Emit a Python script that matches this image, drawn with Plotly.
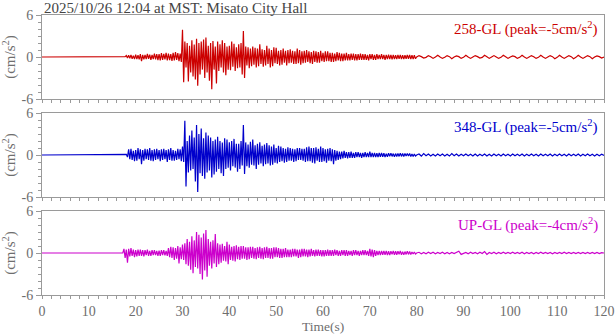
import numpy as np
import plotly.graph_objects as go
from plotly.subplots import make_subplots

# ---- data (cm/s^2) ----
# strong-motion segment: samples every 0.25 s starting at 17.5 s
SEG_A_START, SEG_A_DT = 17.5, 0.25
# coda segment: samples every 0.5 s starting at 80.5 s
SEG_B_START, SEG_B_DT = 80.5, 0.5

red_a = [0, 0.05,
 .2,-.15,.25,-.2, .3,-.25,.2,-.3, .35,-.3,.25,-.35, .4,-.6,.3,-.35, .3,-.3,.45,-.25, .35,-.4,.3,-.3,
 .5,-.35,.4,-.45, .4,-.5,.55,-.4, .45,-.35,.6,-.5, .5,-.45,.4,-.55, .6,-.5,.7,-.4, .55,-.6,.5,-.7,
 3.9,-3.6,2.2,-1.5, 2.0,-3.5,1.6,-2.2, 2.4,-2.8,1.8,-3.2, 2.6,-4.1,2.0,-2.5, 2.2,-1.8,2.5,-3.0,
 2.8,-2.2,1.6,-3.4, 2.0,-4.6,2.3,-1.8, 1.5,-3.8,2.2,-2.0, 1.8,-1.5,2.4,-2.2, 2.0,-2.6,1.5,-1.8,
 1.6,-1.9,2.2,-1.4, 1.9,-2.0,1.4,-1.6, 1.8,-1.5,2.0,-2.5, 3.7,-3.0,1.5,-1.2, 1.4,-1.6,1.2,-1.3,
 1.5,-1.1,1.3,-1.5, 1.2,-1.3,1.8,-1.0, 1.1,-1.4,1.0,-1.2, 1.6,-1.0,1.2,-1.5, 1.0,-1.3,1.4,-0.9,
 1.3,-1.0,0.9,-1.2, 1.0,-1.1,1.2,-0.8, 0.9,-1.2,1.0,-0.9, 1.1,-0.8,0.9,-1.0, 0.8,-1.0,1.2,-0.9,
 1.0,-1.1,0.8,-0.9, 0.9,-0.8,1.0,-0.7, 0.8,-0.9,0.7,-1.0, 0.9,-0.7,0.8,-0.8, 0.7,-0.8,0.9,-0.6,
 0.6,-0.7,0.8,-0.6, 0.8,-0.6,0.6,-0.7, 0.6,-0.7,0.5,-0.6, 0.7,-0.5,0.6,-0.6, 0.5,-0.6,0.5,-0.5,
 0.6,-0.5,0.4,-0.5, 0.5,-0.4,0.5,-0.5, 0.4,-0.5,0.4,-0.4, 0.5,-0.4,0.4,-0.4, 0.4,-0.4,0.3,-0.5,
 0.4,-0.3,0.4,-0.4, 0.3,-0.4,0.4,-0.3, 0.3,-0.3,0.4,-0.3, 0.3,-0.4,0.3,-0.3, 0.35,-0.3,0.3,-0.35,
 0.3,-0.3,0.25,-0.3, 0.3,-0.25,0.3,-0.3, 0.25,-0.3,0.25,-0.25, 0.3,-0.25,0.3,-0.3, 0.25,-0.3,0.25,-0.25,
 0.0]
red_b = [
 0.2,0.05,-0.15,-0.05, 0.2,0.05,-0.2,0, 0.25,0,-0.2,-0.05, 0.2,0.05,-0.25,0, 0.15,0.05,-0.2,-0.05,
 0.25,0,-0.2,0, 0.2,0.05,-0.15,-0.05, 0.25,0.05,-0.2,0, 0.2,0,-0.2,-0.05, 0.25,0.05,-0.2,0,
 0.15,0.05,-0.2,-0.05, 0.25,0,-0.2,0, 0.2,0.05,-0.2,-0.05, 0.25,0,-0.2,0, 0.2,0.05,-0.25,-0.05,
 0.25,0,-0.2,0, 0.2,0.05,-0.25,-0.05, 0.25,0,-0.2,0, 0.2,0.05,-0.25,0, 0.15,0.05,-0.15,0]

blue_a = [0, 0,
 .1,-.3,.8,-.6, .9,-.7,.6,-.9, .7,-.8,1.0,-.6, .8,-1.3,.7,-.8, .9,-.6,.8,-.7, 1.0,-.8,.7,-.9,
 .8,-.7,.9,-.6, .7,-.9,.8,-.7, .9,-.6,.7,-1.0, .8,-.7,1.0,-.8, .7,-.8,.6,-.7, .9,-.6,.8,-.9,
 1.2,-1.0,4.9,-4.5, 2.0,-2.5,2.8,-2.2, 3.5,-2.0,2.5,-3.8, 4.3,-5.3,3.0,-2.6, 3.8,-3.0,2.4,-3.4,
 3.2,-2.5,2.8,-2.2, 2.5,-3.2,2.0,-2.8, 2.2,-2.4,2.6,-2.0, 2.0,-2.6,1.8,-3.0, 2.4,-2.0,2.2,-1.8,
 1.8,-2.2,2.0,-1.6, 2.3,-1.8,1.6,-2.4, 1.6,-2.0,2.0,-1.5, 4.3,-2.7,1.8,-1.6, 1.5,-1.8,1.9,-1.4,
 2.2,-1.5,1.4,-2.0, 1.6,-1.4,1.8,-1.2, 1.3,-1.6,1.5,-1.3, 1.7,-1.2,1.4,-1.5, 1.2,-1.4,1.5,-1.1,
 1.0,-1.2,1.3,-1.0, 1.2,-0.9,1.0,-1.1, 0.9,-1.0,1.1,-0.8, 1.0,-0.8,0.9,-1.0, 0.8,-0.9,1.0,-0.7,
 1.0,-0.7,0.9,-0.8, 0.9,-1.0,1.1,-0.9, 1.2,-0.9,1.0,-1.1, 1.0,-1.2,1.1,-0.8, 0.9,-1.0,1.2,-1.0,
 1.0,-0.9,0.8,-1.1, 0.9,-0.8,1.0,-0.9, 0.8,-1.3,0.7,-0.8, 0.6,-0.7,0.5,-0.6, 0.5,-0.5,0.6,-0.4,
 0.4,-0.5,0.4,-0.4, 0.5,-0.4,0.3,-0.4, 0.4,-0.3,0.4,-0.3, 0.3,-0.4,0.3,-0.3, 0.4,-0.3,0.3,-0.3,
 0.5,-0.3,0.3,-0.3, 0.3,-0.3,0.25,-0.3, 0.3,-0.25,0.3,-0.25, 0.25,-0.3,0.2,-0.25, 0.25,-0.2,0.25,-0.2,
 0.2,-0.25,0.2,-0.2, 0.2,-0.2,0.25,-0.2, 0.2,-0.2,0.2,-0.15, 0.2,-0.15,0.2,-0.2, 0.15,-0.2,0.15,-0.15,
 0.0]
blue_b = [
 0.15,-0.15,0.2,-0.1,0.15,-0.15,0.1,-0.15,0.15,-0.1, 0.15,-0.15,0.1,-0.15,0.2,-0.1,0.15,-0.15,0.1,-0.1,
 0.15,-0.1,0.1,-0.15,0.15,-0.15,0.1,-0.1,0.15,-0.15, 0.1,-0.15,0.15,-0.1,0.1,-0.15,0.15,-0.1,0.1,-0.15,
 0.15,-0.1,0.1,-0.1,0.15,-0.15,0.1,-0.1,0.15,-0.1, 0.1,-0.15,0.15,-0.1,0.1,-0.1,0.15,-0.15,0.1,-0.1,
 0.15,-0.1,0.1,-0.15,0.15,-0.1,0.1,-0.1,0.15,-0.15, 0.1,-0.1,0.15,-0.1,0.1,-0.15,0.1,-0.1,0.1,-0.05]

mag_a = [0.6, -0.7,
 .5,-1.4,.6,-.5, .7,-.4,.5,-.6, .4,-.5,.5,-.4, .5,-.4,.4,-.5, .4,-.3,.5,-.4, .3,-.4,.4,-.3,
 .4,-.3,.3,-.4, .35,-.4,.4,-.3, .4,-.35,.3,-.4, .7,-.6,.9,-.7, .8,-1.0,.7,-.8, 1.0,-1.5,.8,-.9,
 1.2,-1.0,1.4,-1.6, 2.0,-1.8,1.6,-2.4, 2.4,-2.9,1.8,-2.0, 3.0,-2.2,2.6,-3.0, 2.2,-3.8,2.8,-2.5,
 3.3,-3.4,2.0,-1.8, 1.6,-2.2,1.8,-1.5, 2.7,-2.0,1.4,-1.6, 1.2,-1.4,1.3,-1.1, 1.0,-1.2,1.6,-1.6,
 1.2,-1.0,0.9,-1.1, 1.0,-1.2,1.1,-0.9, 0.9,-1.0,1.0,-0.8, 1.0,-0.8,0.8,-1.0, 0.8,-0.9,0.9,-0.7,
 0.9,-0.8,0.7,-0.9, 0.8,-0.7,0.9,-0.8, 0.7,-0.9,0.8,-0.7, 0.9,-0.7,0.7,-0.8, 0.7,-0.8,0.8,-0.6,
 0.8,-0.6,0.7,-0.7, 0.6,-0.7,0.6,-0.6, 0.7,-0.6,0.5,-0.6, 0.5,-0.6,0.6,-0.5, 0.6,-0.5,0.5,-0.7,
 0.5,-0.6,0.6,-0.5, 0.6,-0.5,0.5,-0.6, 0.5,-0.5,0.6,-0.4, 0.4,-0.5,0.5,-0.4, 0.5,-0.4,0.4,-0.5,
 0.4,-0.5,0.4,-0.4, 0.5,-0.4,0.4,-0.4, 0.4,-0.4,0.5,-0.3, 0.4,-0.4,0.3,-0.4, 0.4,-0.3,0.4,-0.4,
 0.4,-0.4,0.3,-0.3, 0.3,-0.4,0.4,-0.3, 0.4,-0.3,0.3,-0.4, 0.3,-0.3,0.4,-0.3, 0.4,-0.3,0.3,-0.4,
 0.6,-0.5,0.5,-0.6, 0.4,-0.4,0.3,-0.3, 0.3,-0.3,0.3,-0.25, 0.3,-0.25,0.3,-0.3, 0.25,-0.3,0.25,-0.2,
 0.3,-0.25,0.25,-0.25, 0.25,-0.2,0.3,-0.25, 0.2,-0.25,0.2,-0.2, 0.25,-0.2,0.2,-0.2, 0.15,-0.15,0.15,-0.15,
 0.0]
mag_b = [
 0.1,-0.1,0.08,-0.1,0.1,-0.08,0.1,-0.1,0.08,-0.08, 0.1,-0.1,0.08,-0.1,0.08,-0.08,0.1,0.25,-0.2,-0.1,
 0.08,-0.1,0.1,-0.08,0.08,-0.1,0.1,-0.08,0.2,-0.2, 0.08,-0.08,0.1,-0.1,0.08,-0.08,0.1,-0.08,0.08,-0.08,
 0.1,-0.08,0.08,-0.08,0.1,-0.1,0.08,-0.08,0.08,-0.1, 0.08,-0.08,0.1,-0.08,0.08,-0.08,0.08,-0.1,0.08,-0.08,
 0.08,-0.08,0.1,-0.08,0.08,-0.08,0.08,-0.08,0.08,-0.08, 0.08,-0.08,0.08,-0.08,0.08,-0.08,0.08,-0.08,0.05,0]

labels = ["258-GL (peak=-5cm/s<sup>2</sup>)",
          "348-GL (peak=-5cm/s<sup>2</sup>)",
          "UP-GL (peak=-4cm/s<sup>2</sup>)"]
colors = ["#cc0000", "#0000cc", "#cc00cc"]
title_text = "2025/10/26 12:04 at MST: Misato City Hall"
xlabel = "Time(s)"


def build(a, b):
    ta = SEG_A_START + SEG_A_DT * np.arange(len(a))
    tb = SEG_B_START + SEG_B_DT * np.arange(len(b))
    t = np.concatenate([[0.0, 17.25], ta, tb])
    v = np.concatenate([[0.0, 0.0], a, b])
    return t, v


series = [build(red_a, red_b), build(blue_a, blue_b), build(mag_a, mag_b)]

fig = make_subplots(rows=3, cols=1, vertical_spacing=0.05)

FONT = "Liberation Serif, Times New Roman, serif"
GRAY = "#6e6e6e"
LINE = "#9a9a9a"
FS = 15

for i, ((t, v), c) in enumerate(zip(series, colors)):
    fig.add_trace(go.Scatter(x=t, y=v, mode="lines", line=dict(color=c, width=1.2),
                             showlegend=False, hoverinfo="skip"), row=i + 1, col=1)
    fig.update_xaxes(range=[0, 120], dtick=10, tick0=0, ticks="outside", ticklen=3,
                     tickcolor=LINE, showline=True, linecolor=LINE, mirror=True,
                     showgrid=False, zeroline=False, showticklabels=(i == 2),
                     automargin=False,
                     minor=dict(dtick=2, ticks="outside", ticklen=3, tickcolor=LINE),
                     tickfont=dict(family=FONT, size=14, color=GRAY),
                     row=i + 1, col=1)
    fig.update_yaxes(range=[-6, 6], tickvals=[-6, 0, 6], ticktext=["-6", "0", "6"],
                     ticks="outside", ticklen=5, tickcolor=LINE, showline=True,
                     linecolor=LINE, mirror=True, showgrid=False, zeroline=False,
                     automargin=False,
                     minor=dict(dtick=1, ticks="outside", ticklen=3, tickcolor=LINE),
                     tickfont=dict(family=FONT, size=14, color=GRAY),
                     title=dict(text="(cm/s<sup>2</sup>)", standoff=4,
                                font=dict(family=FONT, size=FS, color=GRAY)),
                     row=i + 1, col=1)
    yref = "y domain" if i == 0 else f"y{i + 1} domain"
    xref = "x domain" if i == 0 else f"x{i + 1} domain"
    fig.add_annotation(text=labels[i], xref=xref, yref=yref, x=0.993, y=0.98,
                       xanchor="right", yanchor="top", showarrow=False,
                       font=dict(family=FONT, size=FS, color=c))

# x-axis title placed below the tick labels
fig.add_annotation(text=xlabel, xref="x3 domain", yref="y3 domain", x=0.5, y=0,
                   xanchor="center", yanchor="middle", yshift=-31, showarrow=False,
                   font=dict(family=FONT, size=13.5, color=GRAY))

fig.add_annotation(text=title_text, xref="paper", yref="paper", x=0, y=1,
                   xanchor="left", yanchor="bottom", yshift=-3, showarrow=False,
                   font=dict(family=FONT, size=FS, color="#444444"))

fig.update_layout(width=616, height=334, margin=dict(l=42, r=12, t=15, b=39),
                  paper_bgcolor="white", plot_bgcolor="white")

fig.write_html("out.html")
